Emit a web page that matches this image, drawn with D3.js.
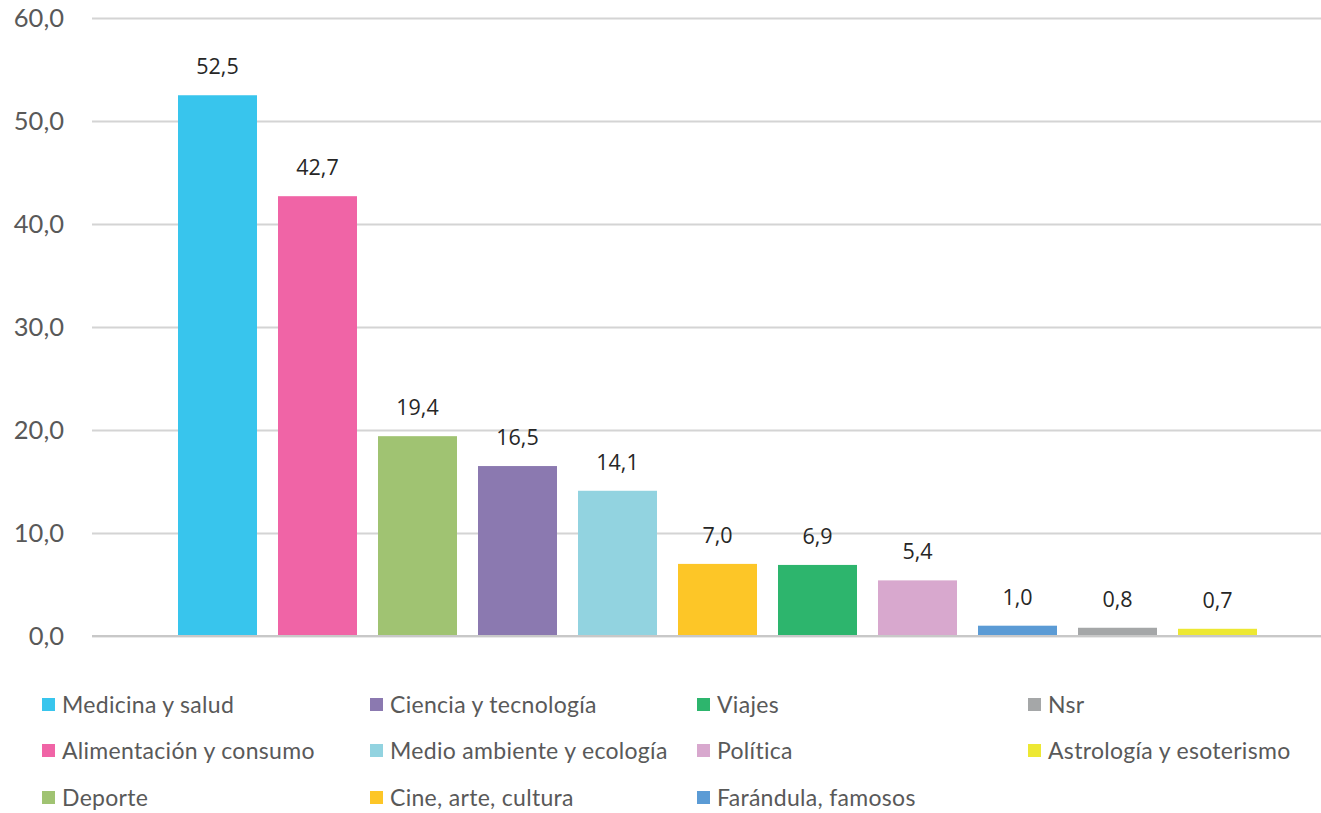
<!DOCTYPE html>
<html>
<head>
<meta charset="utf-8">
<style>
  body { margin: 0; background: #fff; }
  .tick text { font-family: Lato, sans-serif; font-size: 25.5px; fill: #595959; }
  .value { font-family: "Open Sans", sans-serif; font-size: 21.5px; fill: #262626; text-anchor: middle; }
  .legend text { font-family: Lato, sans-serif; font-size: 23px; letter-spacing: 0.3px; fill: #595959; }
</style>
<script src="https://cdnjs.cloudflare.com/ajax/libs/d3/7.8.5/d3.min.js"></script>
</head>
<body>
<svg width="1321" height="813"></svg>
<script>
// data
const categories = ["Medicina y salud", "Alimentación y consumo", "Deporte", "Ciencia y tecnología",
  "Medio ambiente y ecología", "Cine, arte, cultura", "Viajes", "Política",
  "Farándula, famosos", "Nsr", "Astrología y esoterismo"];
const values = [52.5, 42.7, 19.4, 16.5, 14.1, 7.0, 6.9, 5.4, 1.0, 0.8, 0.7];
const colors = ["#38c5ed", "#f064a6", "#a0c372", "#8b79b0", "#92d3e0", "#fdc627",
  "#2db56d", "#d8a8ce", "#5b9bd5", "#a5a7a8", "#ede833"];
const yTicks = [0, 10, 20, 30, 40, 50, 60];

const svg = d3.select("svg");
const fmt = v => v.toFixed(1).replace(".", ",");

const x = d3.scaleBand()
  .domain(categories)
  .range([167.5, 1267.5])
  .paddingInner(0.21)
  .paddingOuter(0.105);

const y = d3.scaleLinear().domain([0, 60]).range([636, 18]);

// grid + tick labels
const yAxis = d3.axisLeft(y)
  .tickValues(yTicks)
  .tickFormat(fmt)
  .tickSize(-(1321 - 92))
  .tickPadding(28);

const ga = svg.append("g")
  .attr("transform", "translate(92,0)")
  .call(yAxis);
ga.select(".domain").remove();
ga.selectAll(".tick line").attr("stroke", "#d4d4d4").attr("stroke-width", 2);

// bars
svg.append("g").selectAll("rect")
  .data(values)
  .join("rect")
  .attr("x", (d, i) => x(categories[i]))
  .attr("y", d => y(d))
  .attr("width", x.bandwidth())
  .attr("height", d => y(0) - y(d))
  .attr("fill", (d, i) => colors[i]);

// baseline on top
svg.append("line")
  .attr("x1", 92).attr("x2", 1321)
  .attr("y1", y(0)).attr("y2", y(0))
  .attr("stroke", "#c8c8c8").attr("stroke-width", 2);

// value labels
svg.append("g").selectAll("text")
  .data(values)
  .join("text")
  .attr("class", "value")
  .attr("x", (d, i) => x(categories[i]) + x.bandwidth() / 2)
  .attr("y", d => y(d) - 21)
  .text(fmt);

// legend, column-major, 3 rows
const colX = [42, 370, 697, 1028];
const rowY = [705, 751, 798];
const lg = svg.append("g").attr("class", "legend");
categories.forEach((c, i) => {
  const col = Math.floor(i / 3), row = i % 3;
  const g = lg.append("g").attr("transform", `translate(${colX[col]},${rowY[row]})`);
  g.append("rect").attr("x", 0).attr("y", -7).attr("width", 13).attr("height", 13).attr("fill", colors[i]);
  g.append("text").attr("x", 20).attr("dy", "0.35em").text(c);
});
</script>
</body>
</html>
